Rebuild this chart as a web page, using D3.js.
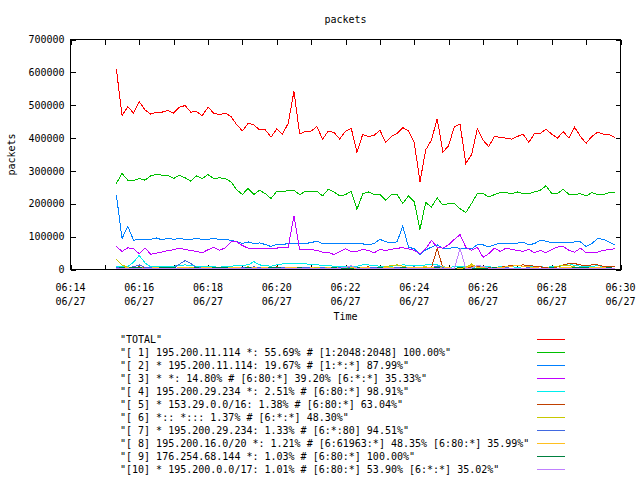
<!DOCTYPE html>
<html>
<head>
<meta charset="utf-8">
<script src="https://cdn.jsdelivr.net/npm/d3@7/dist/d3.min.js"></script>
<style>
  body { margin: 0; background: #fff; }
  svg { display: block; }
  text { font-family: "DejaVu Sans Mono", monospace; font-size: 10px; fill: #000; white-space: pre; }
</style>
</head>
<body>
<div id="chart"></div>
<script>
// sample times (06/27), one every 10 s
const times = [
  '06:15:20', '06:15:30', '06:15:40', '06:15:50',
  '06:16:00', '06:16:10', '06:16:20', '06:16:30', '06:16:40', '06:16:50',
  '06:17:00', '06:17:10', '06:17:20', '06:17:30', '06:17:40', '06:17:50',
  '06:18:00', '06:18:10', '06:18:20', '06:18:30', '06:18:40', '06:18:50',
  '06:19:00', '06:19:10', '06:19:20', '06:19:30', '06:19:40', '06:19:50',
  '06:20:00', '06:20:10', '06:20:20', '06:20:30', '06:20:40', '06:20:50',
  '06:21:00', '06:21:10', '06:21:20', '06:21:30', '06:21:40', '06:21:50',
  '06:22:00', '06:22:10', '06:22:20', '06:22:30', '06:22:40', '06:22:50',
  '06:23:00', '06:23:10', '06:23:20', '06:23:30', '06:23:40', '06:23:50',
  '06:24:00', '06:24:10', '06:24:20', '06:24:30', '06:24:40', '06:24:50',
  '06:25:00', '06:25:10', '06:25:20', '06:25:30', '06:25:40', '06:25:50',
  '06:26:00', '06:26:10', '06:26:20', '06:26:30', '06:26:40', '06:26:50',
  '06:27:00', '06:27:10', '06:27:20', '06:27:30', '06:27:40', '06:27:50',
  '06:28:00', '06:28:10', '06:28:20', '06:28:30', '06:28:40', '06:28:50',
  '06:29:00', '06:29:10', '06:29:20', '06:29:30', '06:29:40', '06:29:50'
];

const total = [
  611000, 468000, 496000, 476000, 511000, 486000, 473000, 479000, 479000, 484000,
  476000, 494000, 499000, 479000, 481000, 468000, 494000, 476000, 471000, 476000,
  466000, 441000, 422000, 445000, 440000, 425000, 425000, 403000, 428000, 412000,
  445000, 542000, 413000, 420000, 421000, 435000, 397000, 421000, 417000, 397000,
  421000, 430000, 357000, 411000, 405000, 408000, 424000, 387000, 405000, 414000,
  432000, 422000, 387000, 267000, 364000, 394000, 459000, 357000, 377000, 435000,
  442000, 323000, 349000, 428000, 394000, 374000, 405000, 402000, 400000, 397000,
  405000, 412000, 387000, 414000, 414000, 427000, 412000, 400000, 420000, 400000,
  433000, 405000, 384000, 405000, 418000, 412000, 411000, 402000
];

const flow1 = [
  262000, 292000, 272000, 271000, 277000, 272000, 285000, 290000, 287000, 287000,
  277000, 287000, 279000, 269000, 285000, 277000, 289000, 277000, 279000, 277000,
  267000, 243000, 228000, 247000, 228000, 241000, 231000, 216000, 238000, 236000,
  241000, 241000, 228000, 238000, 238000, 238000, 224000, 244000, 236000, 224000,
  228000, 238000, 183000, 230000, 236000, 228000, 229000, 211000, 228000, 228000,
  201000, 224000, 206000, 122000, 204000, 190000, 218000, 196000, 201000, 201000,
  185000, 173000, 201000, 231000, 231000, 221000, 228000, 234000, 234000, 231000,
  236000, 231000, 231000, 236000, 241000, 255000, 231000, 231000, 245000, 228000,
  228000, 231000, 224000, 234000, 228000, 228000, 234000, 234000
];

const flow2 = [
  228000, 94000, 132000, 89000, 92000, 92000, 92000, 96000, 90000, 96000,
  92000, 94000, 92000, 92000, 94000, 92000, 92000, 94000, 92000, 92000,
  89000, 85000, 79000, 84000, 79000, 81000, 76000, 70000, 77000, 76000,
  79000, 78000, 78000, 79000, 82000, 86000, 79000, 78000, 78000, 78000,
  78000, 78000, 78000, 78000, 75000, 79000, 92000, 84000, 82000, 84000,
  132000, 68000, 63000, 45000, 60000, 68000, 75000, 64000, 64000, 68000,
  64000, 63000, 63000, 75000, 75000, 69000, 75000, 80000, 79000, 79000,
  80000, 84000, 75000, 79000, 89000, 86000, 82000, 82000, 82000, 82000,
  84000, 84000, 70000, 79000, 94000, 92000, 84000, 75000
];

const flow3 = [
  70000, 55000, 66000, 63000, 48000, 66000, 46000, 50000, 53000, 58000,
  60000, 65000, 61000, 58000, 55000, 51000, 60000, 68000, 58000, 66000,
  84000, 84000, 73000, 65000, 65000, 65000, 65000, 65000, 65000, 68000,
  68000, 163000, 61000, 61000, 61000, 58000, 53000, 53000, 45000, 55000,
  63000, 55000, 55000, 61000, 58000, 51000, 61000, 58000, 61000, 65000,
  66000, 63000, 58000, 48000, 63000, 89000, 68000, 65000, 75000, 92000,
  106000, 68000, 58000, 68000, 37000, 48000, 65000, 55000, 65000, 61000,
  58000, 55000, 61000, 51000, 58000, 51000, 61000, 68000, 71000, 58000,
  53000, 65000, 51000, 53000, 53000, 58000, 61000, 63000
];

const flow4 = [
  10000, 8000, 9000, 22000, 43000, 20000, 8000, 9000, 8000, 9000,
  10000, 12000, 14000, 12000, 10000, 8000, 9000, 8000, 7000, 9000,
  10000, 12000, 13000, 14000, 24000, 14000, 12000, 10000, 14000, 17000,
  18000, 18000, 18000, 17000, 16000, 14000, 13000, 12000, 10000, 9000,
  8000, 9000, 10000, 14000, 14000, 12000, 10000, 9000, 10000, 12000,
  14000, 13000, 12000, 12000, 14000, 16000, 14000, 8000, 7000, 8000,
  9000, 8000, 7000, 8000, 9000, 8000, 7000, 8000, 9000, 8000,
  7000, 8000, 8000, 9000, 8000, 7000, 8000, 9000, 12000, 18000,
  12000, 10000, 9000, 10000, 11000, 10000, 9000, 10000
];

const flow5 = [
  4000, 5000, 3000, 6000, 8000, 5000, 4000, 3000, 5000, 4000,
  3000, 4000, 6000, 5000, 4000, 3000, 5000, 4000, 3000, 4000,
  5000, 4000, 6000, 5000, 4000, 3000, 4000, 5000, 8000, 6000,
  4000, 5000, 4000, 3000, 4000, 5000, 6000, 5000, 4000, 3000,
  4000, 5000, 4000, 6000, 8000, 5000, 4000, 3000, 4000, 5000,
  4000, 3000, 4000, 3000, 5000, 6000, 64000, 5000, 4000, 3000,
  4000, 5000, 8000, 9000, 6000, 5000, 4000, 6000, 10000, 12000,
  12000, 14000, 12000, 10000, 8000, 6000, 5000, 8000, 14000, 18000,
  18000, 14000, 12000, 14000, 14000, 10000, 8000, 8000
];

const flow6 = [
  30000, 14000, 6000, 5000, 6000, 4000, 5000, 4000, 6000, 5000,
  4000, 5000, 6000, 7000, 5000, 4000, 5000, 6000, 4000, 5000,
  4000, 5000, 6000, 8000, 6000, 5000, 4000, 5000, 6000, 5000,
  4000, 5000, 6000, 5000, 4000, 5000, 6000, 5000, 4000, 6000,
  5000, 4000, 5000, 6000, 5000, 4000, 6000, 8000, 12000, 14000,
  10000, 6000, 5000, 4000, 5000, 4000, 3000, 4000, 5000, 4000,
  3000, 6000, 17000, 6000, 5000, 4000, 3000, 4000, 3000, 4000,
  3000, 4000, 3000, 2000, 3000, 4000, 6000, 10000, 12000, 12000,
  8000, 5000, 4000, 3000, 4000, 3000, 4000, 3000
];

const flow7 = [
  5000, 4000, 6000, 8000, 14000, 6000, 5000, 4000, 5000, 4000,
  5000, 16000, 27000, 18000, 6000, 5000, 4000, 5000, 6000, 5000,
  4000, 5000, 6000, 5000, 8000, 6000, 5000, 4000, 5000, 6000,
  5000, 4000, 5000, 6000, 5000, 4000, 5000, 4000, 6000, 5000,
  4000, 5000, 4000, 5000, 6000, 5000, 4000, 5000, 6000, 5000,
  4000, 6000, 8000, 5000, 4000, 5000, 10000, 6000, 5000, 4000,
  5000, 4000, 3000, 4000, 5000, 4000, 3000, 4000, 5000, 4000,
  3000, 4000, 5000, 4000, 3000, 4000, 5000, 4000, 5000, 4000,
  3000, 4000, 5000, 4000, 3000, 4000, 5000, 4000
];

const flow8 = [
  3000, 4000, 5000, 4000, 3000, 2000, 4000, 6000, 5000, 3000,
  4000, 5000, 6000, 4000, 3000, 5000, 6000, 4000, 3000, 4000,
  5000, 6000, 4000, 3000, 5000, 4000, 6000, 5000, 3000, 4000,
  5000, 6000, 4000, 3000, 5000, 4000, 3000, 5000, 6000, 4000,
  3000, 5000, 4000, 6000, 5000, 3000, 4000, 6000, 5000, 4000,
  3000, 5000, 6000, 7000, 8000, 6000, 4000, 8000, 5000, 4000,
  3000, 5000, 12000, 6000, 5000, 4000, 5000, 6000, 8000, 10000,
  12000, 10000, 8000, 6000, 4000, 3000, 2000, 4000, 6000, 5000,
  4000, 3000, 4000, 5000, 6000, 5000, 4000, 3000
];

const flow9 = [
  4000, 5000, 4000, 6000, 5000, 4000, 3000, 4000, 5000, 6000,
  5000, 4000, 3000, 4000, 5000, 4000, 3000, 5000, 6000, 5000,
  4000, 3000, 4000, 5000, 4000, 3000, 4000, 5000, 6000, 4000,
  3000, 4000, 5000, 4000, 3000, 2000, 3000, 4000, 5000, 4000,
  3000, 4000, 5000, 4000, 3000, 4000, 5000, 4000, 3000, 4000,
  5000, 4000, 3000, 2000, 3000, 4000, 5000, 4000, 3000, 4000,
  5000, 4000, 3000, 2000, 3000, 4000, 5000, 4000, 3000, 2000,
  1000, 2000, 1000, 2000, 3000, 4000, 5000, 4000, 3000, 4000,
  5000, 6000, 5000, 4000, 3000, 4000, 5000, 4000
];

const flow10 = [
  3000, 2000, 3000, 4000, 3000, 2000, 3000, 2000, 3000, 4000,
  3000, 2000, 3000, 4000, 3000, 2000, 3000, 2000, 3000, 4000,
  3000, 2000, 3000, 2000, 3000, 4000, 3000, 2000, 3000, 4000,
  3000, 2000, 3000, 2000, 3000, 4000, 3000, 2000, 3000, 4000,
  6000, 12000, 4000, 3000, 2000, 3000, 4000, 3000, 2000, 3000,
  4000, 3000, 2000, 3000, 4000, 3000, 2000, 3000, 4000, 3000,
  64000, 3000, 4000, 12000, 10000, 4000, 3000, 2000, 3000, 4000,
  3000, 2000, 3000, 4000, 3000, 2000, 3000, 4000, 3000, 2000,
  3000, 4000, 3000, 2000, 3000, 4000, 3000, 2000
];

const seriesLabels = [
  '"TOTAL"',
  '"[ 1] 195.200.11.114 *: 55.69% # [1:2048:2048] 100.00%"',
  '"[ 2] * 195.200.11.114: 19.67% # [1:*:*] 87.99%"',
  '"[ 3] * *: 14.80% # [6:80:*] 39.20% [6:*:*] 35.33%"',
  '"[ 4] 195.200.29.234 *: 2.51% # [6:80:*] 98.91%"',
  '"[ 5] * 153.29.0.0/16: 1.38% # [6:80:*] 63.04%"',
  '"[ 6] *:: *::: 1.37% # [6:*:*] 48.30%"',
  '"[ 7] * 195.200.29.234: 1.33% # [6:*:80] 94.51%"',
  '"[ 8] 195.200.16.0/20 *: 1.21% # [6:61963:*] 48.35% [6:80:*] 35.99%"',
  '"[ 9] 176.254.68.144 *: 1.03% # [6:80:*] 100.00%"',
  '"[10] * 195.200.0.0/17: 1.01% # [6:80:*] 53.90% [6:*:*] 35.02%"'
];
const seriesValues = [total, flow1, flow2, flow3, flow4, flow5, flow6, flow7, flow8, flow9, flow10];
const seriesColors = ['#ff0000', '#00c000', '#0080ff', '#c000ff', '#00eeee', '#c04000',
  '#c8c800', '#4169e1', '#ffc020', '#008040', '#c080ff'];

const xDomain = ['06:14:00', '06:30:00'];
const xTickTimes = ['06:14', '06:15', '06:16', '06:17', '06:18', '06:19', '06:20', '06:21', '06:22',
  '06:23', '06:24', '06:25', '06:26', '06:27', '06:28', '06:29', '06:30'];
const xLabelTimes = ['06:14', '06:16', '06:18', '06:20', '06:22', '06:24', '06:26', '06:28', '06:30'];
const yTicks = [0, 100000, 200000, 300000, 400000, 500000, 600000, 700000];
const dayLabel = '06/27';

const W = 640;
const H = 480;
const plot = { left: 70.5, right: 620.5, top: 39.5, bottom: 269.5 };
const TICK = 5;

const parseT = (s) => d3.timeParse('%Y-%m-%d %H:%M:%S')('2009-06-27 ' + (s.length === 5 ? s + ':00' : s));

const svg = d3.select('#chart').append('svg').attr('width', W).attr('height', H);
svg.append('rect').attr('width', W).attr('height', H).attr('fill', '#fff');

const x = d3.scaleTime().domain(xDomain.map(parseT)).range([plot.left, plot.right]);
const y = d3.scaleLinear().domain([0, 700000]).range([plot.bottom, plot.top]);

svg.append('defs').append('clipPath').attr('id', 'plotclip')
  .append('rect')
  .attr('x', plot.left).attr('y', plot.top)
  .attr('width', plot.right - plot.left).attr('height', plot.bottom - plot.top + 0.5);

// axes: ticks point inward on all four sides, labels only left and bottom
const yLeft = d3.axisLeft(y).tickValues(yTicks).tickSizeInner(-TICK).tickSizeOuter(0).tickPadding(6).tickFormat(d3.format('d'));
const yRight = d3.axisRight(y).tickValues(yTicks).tickSizeInner(-TICK).tickSizeOuter(0).tickFormat('');
const xBottom = d3.axisBottom(x).tickValues(xTickTimes.map(parseT)).tickSizeInner(-TICK).tickSizeOuter(0).tickFormat('');
const xTop = d3.axisTop(x).tickValues(xTickTimes.map(parseT)).tickSizeInner(-TICK).tickSizeOuter(0).tickFormat('');

const axisGroups = [
  svg.append('g').attr('transform', `translate(${plot.left},0)`).call(yLeft),
  svg.append('g').attr('transform', `translate(${plot.right},0)`).call(yRight),
  svg.append('g').attr('transform', `translate(0,${plot.bottom})`).call(xBottom),
  svg.append('g').attr('transform', `translate(0,${plot.top})`).call(xTop),
];
axisGroups.forEach((g) => {
  g.select('.domain').remove();
  g.attr('font-family', null).attr('font-size', null);
  g.selectAll('line').attr('stroke', '#000').attr('shape-rendering', 'crispEdges');
});
axisGroups[0].selectAll('text').attr('fill', '#000');

// two-line time labels under the plot
const xLabels = svg.append('g');
xLabelTimes.forEach((t) => {
  const tx = xLabels.append('text').attr('x', x(parseT(t))).attr('text-anchor', 'middle');
  tx.append('tspan').attr('x', x(parseT(t))).attr('y', 290.5).text(d3.timeFormat('%H:%M')(parseT(t)));
  tx.append('tspan').attr('x', x(parseT(t))).attr('y', 304.5).text(dayLabel);
});

// series, drawn in legend order so small flows end up on top
const line = d3.line().x((d, i) => x(parseT(times[i]))).y((d) => y(d));
const lines = svg.append('g').attr('clip-path', 'url(#plotclip)');
seriesValues.forEach((vals, k) => {
  lines.append('path').datum(vals)
    .attr('d', line)
    .attr('fill', 'none')
    .attr('stroke', seriesColors[k])
    .attr('stroke-width', 1)
    .attr('shape-rendering', 'crispEdges');
});

// border
svg.append('rect')
  .attr('x', plot.left).attr('y', plot.top)
  .attr('width', plot.right - plot.left).attr('height', plot.bottom - plot.top)
  .attr('fill', 'none').attr('stroke', '#000').attr('shape-rendering', 'crispEdges');

// titles
svg.append('text').attr('x', (plot.left + plot.right) / 2).attr('y', 22.5).attr('text-anchor', 'middle').text('packets');
svg.append('text').attr('x', (plot.left + plot.right) / 2).attr('y', 319.5).attr('text-anchor', 'middle').text('Time');
svg.append('text').attr('transform', `translate(15,${(plot.top + plot.bottom) / 2}) rotate(-90)`)
  .attr('text-anchor', 'middle').text('packets');

// legend
const legend = svg.append('g');
seriesLabels.forEach((label, k) => {
  const ly = 339.5 + k * 13;
  legend.append('text').attr('x', 120).attr('y', ly + 3.5).text(label);
  legend.append('line')
    .attr('x1', 537).attr('x2', 565).attr('y1', ly).attr('y2', ly)
    .attr('stroke', seriesColors[k]).attr('shape-rendering', 'crispEdges');
});
</script>
</body>
</html>
